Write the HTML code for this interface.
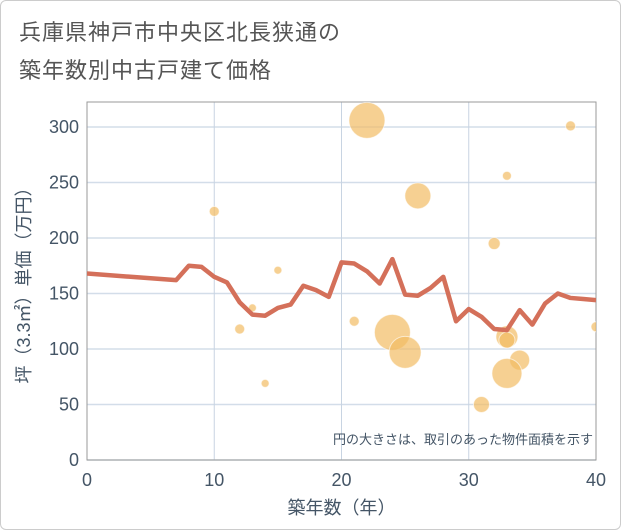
<!DOCTYPE html>
<html><head><meta charset="utf-8"><style>
body{margin:0;background:#fff;}
#wrap{position:relative;width:619px;height:528px;border:1px solid #ccc;border-radius:6px;overflow:hidden;font-family:"Liberation Sans","Noto Sans CJK JP",sans-serif;}
.title{position:absolute;left:18px;font-size:22px;color:#555;letter-spacing:1px;}
</style></head><body>
<div id="wrap">
<div class="title" style="top:14px">兵庫県神戸市中央区北長狭通の</div>
<div class="title" style="top:52px">築年数別中古戸建て価格</div>
<svg id="chart" width="621" height="530" style="position:absolute;left:-1px;top:-1px"></svg>
</div>
<script>
const lineYears=[0,7,8,9,10,11,12,13,14,15,16,17,18,19,20,21,22,23,24,25,26,27,28,29,30,31,32,33,34,35,36,37,38,39,40];
const lineValues=[168,162,175,174,165,160,142,131,130,137,140,157,153,147,178,177,170,159,181,149,148,155,165,125,136,129,118,117,135,122,141,150,146,145,144];
const bubbleYears=[22,38,33,26,10,32,15,13,12,21,24,25,33,33,34,33,14,31,40];
const bubbleValues=[306,301,256,238,224,195,171,137,118,125,115,97,111,108,90,78,69,50,120];
const bubbleAreas=[324,25,20,169,25,36,16,16,25,25,324,256,121,64,100,225,16,64,25];
const xTicks=[0,10,20,30,40];
const yTicks=[0,50,100,150,200,250,300];
const X0=87,X1=596,Y0=460,YT=127;
const xs=v=>X0+(X1-X0)*v/40;
const ys=v=>Y0-(Y0-YT)*v/300;
const svg=document.getElementById('chart');
const NS='http://www.w3.org/2000/svg';
function mk(t,a){const e=document.createElementNS(NS,t);for(const k in a)e.setAttribute(k,a[k]);svg.appendChild(e);return e;}
const PT=102;
for(const t of yTicks){
 const g=mk('line',{x1:X0,x2:X1,y1:ys(t),y2:ys(t),stroke:'#d3dde9','stroke-width':1.5});
 
 
 const l=mk('text',{x:X0-8,y:ys(t)+6,'text-anchor':'end','font-size':18,fill:'#445566'});
 l.textContent=t;
 
 
}
for(const t of xTicks){
 const g=mk('line',{x1:xs(t),x2:xs(t),y1:PT,y2:Y0,stroke:'#c8d4e2','stroke-width':1});
 
 
 const l=mk('text',{x:xs(t),y:Y0+26,'text-anchor':'middle','font-size':18,fill:'#445566'});
 l.textContent=t;
 
 
}
const fr=mk('rect',{x:X0,y:PT,width:X1-X0,height:Y0-PT,fill:'none',stroke:'#999','stroke-width':1});


const cp=mk('clipPath',{id:'clp'});
const cr=document.createElementNS(NS,'rect');cr.setAttribute('x',X0);cr.setAttribute('y',PT);cr.setAttribute('width',X1-X0);cr.setAttribute('height',Y0-PT);cp.appendChild(cr);
const bg=mk('g',{'clip-path':'url(#clp)'});
bubbleYears.forEach((yr,i)=>{
 const c=document.createElementNS(NS,'circle');
 c.setAttribute('cx',xs(yr));c.setAttribute('cy',ys(bubbleValues[i]));c.setAttribute('r',Math.sqrt(bubbleAreas[i]));
 c.setAttribute('fill','rgba(242,188,100,0.7)');c.setAttribute('stroke','rgba(255,255,255,0.6)');c.setAttribute('stroke-width','1');
 
 
 bg.appendChild(c);
});
const pl=mk('polyline',{points:lineYears.map((y,i)=>xs(y)+','+ys(lineValues[i])).join(' '),fill:'none',stroke:'#d4705a','stroke-width':4.5,'stroke-linejoin':'round','clip-path':'url(#clp)'});


const note=mk('text',{x:X1-3,y:444,'text-anchor':'end','font-size':13,fill:'#445566'});
note.textContent='円の大きさは、取引のあった物件面積を示す';


const xt=mk('text',{x:(X0+X1)/2,y:514,'text-anchor':'middle','font-size':18,fill:'#445566'});
xt.textContent='築年数（年）';


const yt=mk('text',{x:0,y:0,'text-anchor':'middle','font-size':18,fill:'#445566',transform:'translate(30,'+((PT+Y0)/2)+') rotate(-90)'});
yt.textContent='坪（3.3㎡）単価（万円）';


</script>
</body></html>
